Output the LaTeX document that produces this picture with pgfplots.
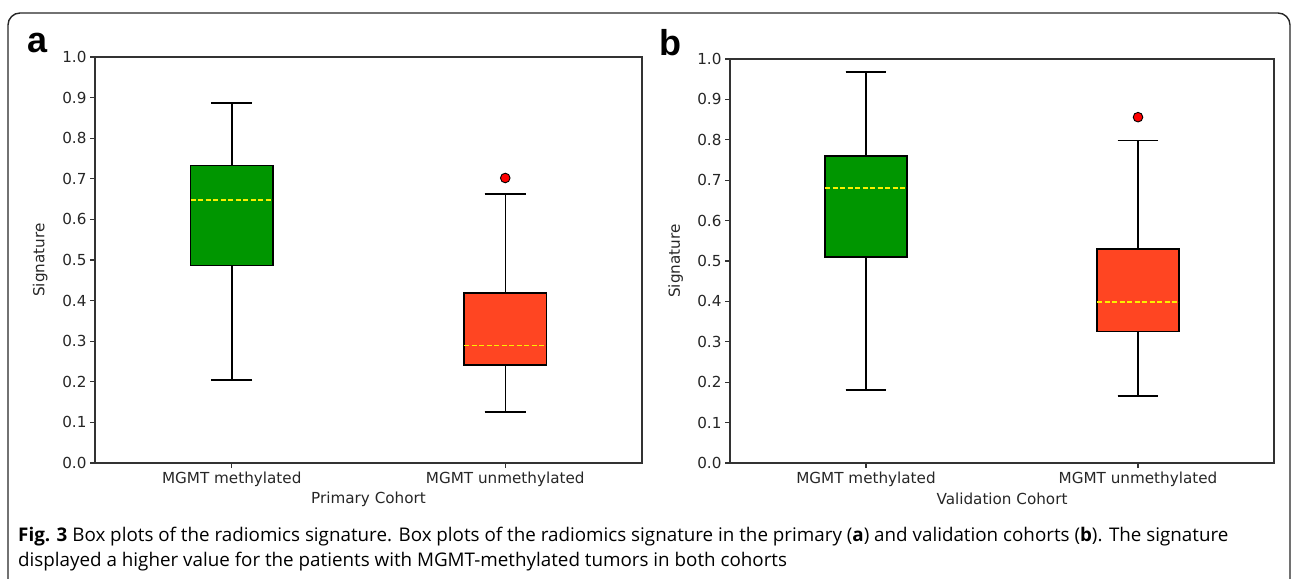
\documentclass[border=0pt]{standalone}
\usepackage{fontspec}
\setmainfont{Open Sans}
\newfontfamily\dejavu{DejaVu Sans}
\newfontfamily\arialfont{Liberation Sans}
\usepackage{pgfplots}
\pgfplotsset{compat=1.18}
\usepgfplotslibrary{statistics}

\definecolor{boxgreen}{RGB}{0,150,0}
\definecolor{boxred}{RGB}{255,69,34}
\definecolor{medyellow}{RGB}{250,240,0}
\definecolor{outred}{RGB}{255,0,0}

\pgfplotsset{
  sigpanel/.style={
    scale only axis, anchor=south west,
    xmin=0.5, xmax=2.5, ymin=0, ymax=1,
    xtick={1,2}, xticklabels={MGMT methylated,MGMT unmethylated},
    ytick={0,0.1,0.2,0.3,0.4,0.5,0.6,0.7,0.8,0.9,1.0},
    yticklabel style={/pgf/number format/.cd,fixed,fixed zerofill,precision=1},
    /pgf/number format/assume math mode=true,
    tick label style={font=\dejavu\fontsize{15.2}{18}\selectfont, black!85},
    label style={font=\dejavu\fontsize{15.2}{18}\selectfont, black!85},
    tick align=outside, tick pos=left, major tick length=5pt,
    axis line style={line width=1.4pt, black!80},
    every tick/.style={black!80, line width=1.2pt},
    ylabel style={at={(axis description cs:-0.1,0.5)}, anchor=center},
    xlabel style={at={(axis description cs:0.5,-0.089)}, anchor=center},
    boxplot/draw direction=y,
    boxplot/box extend=0.3,
    boxplot/whisker extend=0.15,
    boxplot/every median/.style={draw=medyellow, line width=1.6pt, dash pattern=on 5pt off 2.5pt},
  },
  sigbox/.style={draw=black, line width=1.5pt, fill=#1,
    mark=*, mark size=4.8pt, mark options={fill=outred, draw=black, line width=0.9pt}},
}

\begin{document}
\begin{tikzpicture}[x=1pt,y=1pt]
\clip (0,0) rectangle (1292,578);
\draw[line width=1.4pt, black!85, rounded corners=12pt] (8,-20) -- (8,565) -- (1290,565) -- (1290,-20);

% panel a: primary cohort
\begin{axis}[sigpanel, at={(95pt,115pt)}, width=547pt, height=406pt,
  ylabel={Signature}, xlabel={Primary Cohort}]
\addplot[sigbox=boxgreen, boxplot prepared={draw position=1,
  lower whisker=0.204, lower quartile=0.487, median=0.648,
  upper quartile=0.733, upper whisker=0.887}] coordinates {};
\addplot[sigbox=boxred, boxplot prepared={draw position=2,
  lower whisker=0.126, lower quartile=0.241, median=0.289,
  upper quartile=0.419, upper whisker=0.663}] coordinates {(2,0.702)};
\end{axis}

% panel b: validation cohort
\begin{axis}[sigpanel, at={(730pt,115pt)}, width=544pt, height=404pt,
  ylabel={Signature}, xlabel={Validation Cohort}]
\addplot[sigbox=boxgreen, boxplot prepared={draw position=1,
  lower whisker=0.181, lower quartile=0.510, median=0.681,
  upper quartile=0.760, upper whisker=0.968}] coordinates {};
\addplot[sigbox=boxred, boxplot prepared={draw position=2,
  lower whisker=0.166, lower quartile=0.326, median=0.398,
  upper quartile=0.530, upper whisker=0.798}] coordinates {(2,0.856)};
\end{axis}

\node[font=\arialfont\bfseries\fontsize{36}{40}\selectfont] at (38,535) {a};
\node[font=\arialfont\bfseries\fontsize{36}{40}\selectfont] at (670,535) {b};

\node[anchor=base west, font=\fontsize{18.8}{22}\selectfont, inner sep=0pt] at (18,37)
  {\textbf{Fig. 3} Box plots of the radiomics signature. Box plots of the radiomics signature in the primary (\textbf{a}) and validation cohorts (\textbf{b}). The signature};
\node[anchor=base west, font=\fontsize{18.8}{22}\selectfont, inner sep=0pt] at (18,12)
  {displayed a higher value for the patients with MGMT-methylated tumors in both cohorts};
\end{tikzpicture}
\end{document}
